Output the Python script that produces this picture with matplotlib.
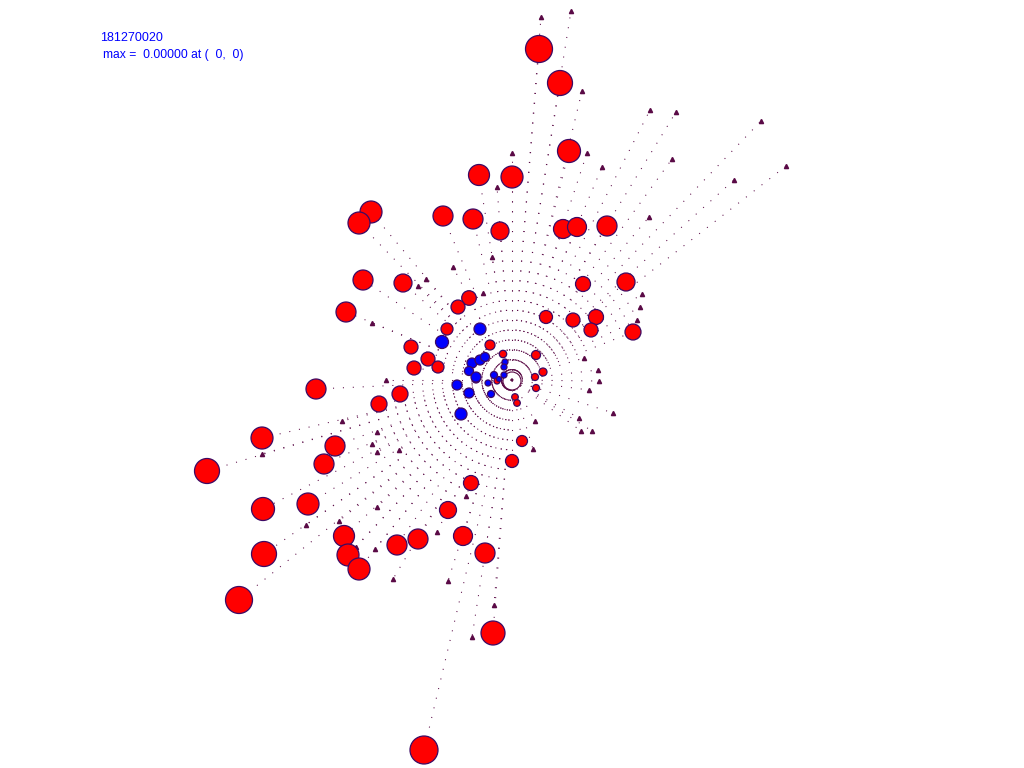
import numpy as np
import matplotlib.pyplot as plt
from matplotlib.patches import Circle
from matplotlib.collections import LineCollection

# red circles: x, y (pixel units from the centre), radius
red_x = [27, 48, 57, -33, 0, -141, -153, -69, -39, -12, 51, 65, 95, -149, -109, 114, 71,
         -166, -43, -54, 34, 61, 84, 79, 121, -65, -101, -84, -98, -74, -196, -133, -112,
         -250, -177, -188, -305, 10, 0, -41, -249, -204, -64, -168, -164, -153, -115, -94,
         -49, -248, -27, -273, -19, -88,
         -22, -9, 24, 31, 23, 24, -36, 3, 5, -15]
red_y = [331, 297, 229, 205, 203, 168, 157, 164, 161, 149, 151, 153, 154, 100, 97, 98, 96,
         68, 82, 73, 63, 60, 63, 50, 48, 51, 33, 21, 12, 13, -9, -24, -14,
         -58, -66, -84, -91, -61, -81, -103, -129, -124, -130, -156, -175, -189, -165, -159,
         -156, -174, -173, -220, -253, -370,
         35, 26, 25, 8, 3, -8, 1, -17, -23, -1]
red_r = [13.5, 12.5, 11.5, 10.5, 11, 11, 11, 10, 10, 9, 9.5, 9.5, 10, 10, 9, 9, 7.5,
         10, 7.3, 7, 6.5, 7, 7.5, 7, 8, 6, 7, 7, 7, 6, 10, 8, 8,
         11, 10, 10, 12.5, 5.5, 6.5, 7.5, 11.5, 11, 8.5, 10.5, 11, 11, 10, 10,
         9.5, 12.5, 10, 13.5, 12, 14,
         5, 3.7, 4.5, 4, 3.5, 3.5, 4, 3.3, 3.3, 3]

# blue circles
blue_x = [-32, -70, -40, -32, -27, -43, -36, -55, -43, -51, -18, -8, -7, -8, -13, -24, -21]
blue_y = [51, 38, 17, 20, 23, 9, 3, -5, -13, -34, 5, 5, 18, 13, 1, -3, -14]
blue_r = [6, 6.5, 5, 5, 4.5, 4.5, 5, 5, 5, 6, 3.5, 3, 3, 3, 2.5, 3, 3.5]

# triangle markers at the ends of the rays
tri_x = [29, 59, 70, 138, 164, 249, 274, 222, 160, 75, 90, 137, 130, 128, 125, 0, -15,
         -20, -59, -29, -86, -94, -140, -126, -170, -135, -140, -135, -113, -250, -135,
         -206, -173, -156, -137, -119, -75, -64, -46, -18, -40, 21, 23, 72, 86, 87, 77,
         101, 67, 69, 80]
tri_y = [363, 369, 289, 270, 268, 259, 214, 200, 221, 227, 213, 163, 86, 73, 60, 227, 193,
         123, 113, 87, 101, 94, 57, 0, -41, -52, -64, -72, -70, -74, -127,
         -145, -141, -167, -169, -199, -152, -201, -116, -225, -257, -69, -41, 22, 10, -1, -10,
         -33, -38, -51, -51]

dot_col = '#5a0a46'
edge_col = '#3c0a64'

fig = plt.figure(figsize=(10.24, 7.68), dpi=100)
ax = fig.add_axes([0, 0, 1, 1])
ax.set_xlim(-512, 512)
ax.set_ylim(-388, 380)
ax.axis('off')

# dotted rays from the centre
ends = list(zip(red_x, red_y)) + list(zip(blue_x, blue_y)) + list(zip(tri_x, tri_y))
segs = [[(0, 0), e] for e in ends]
lc = LineCollection(segs, colors=dot_col, linewidths=0.75, linestyles=[(0, (1, 8.5))], zorder=1)
ax.add_collection(lc)

# small ring at the centre
ax.add_patch(Circle((0, -1), 9, fill=False, ec=dot_col, lw=0.8, zorder=2))

ax.plot(tri_x, tri_y, '^', color=dot_col, ms=3, zorder=2)

for x, y, r in zip(red_x, red_y, red_r):
    ax.add_patch(Circle((x, y), r, fc='#ff0000', ec=edge_col, lw=0.9, zorder=3))
for x, y, r in zip(blue_x, blue_y, blue_r):
    ax.add_patch(Circle((x, y), r, fc='#0000ff', ec=edge_col, lw=0.9, zorder=4))

fig.text(100/1024, 1 - 41/768, '181270020', color='#0000ff', fontsize=9, family='Liberation Sans')
fig.text(103/1024, 1 - 58/768, 'max =  0.00000 at (  0,  0)', color='#0000ff', fontsize=8.7,
         family='Liberation Sans')

fig.savefig('out.png', dpi=100)
